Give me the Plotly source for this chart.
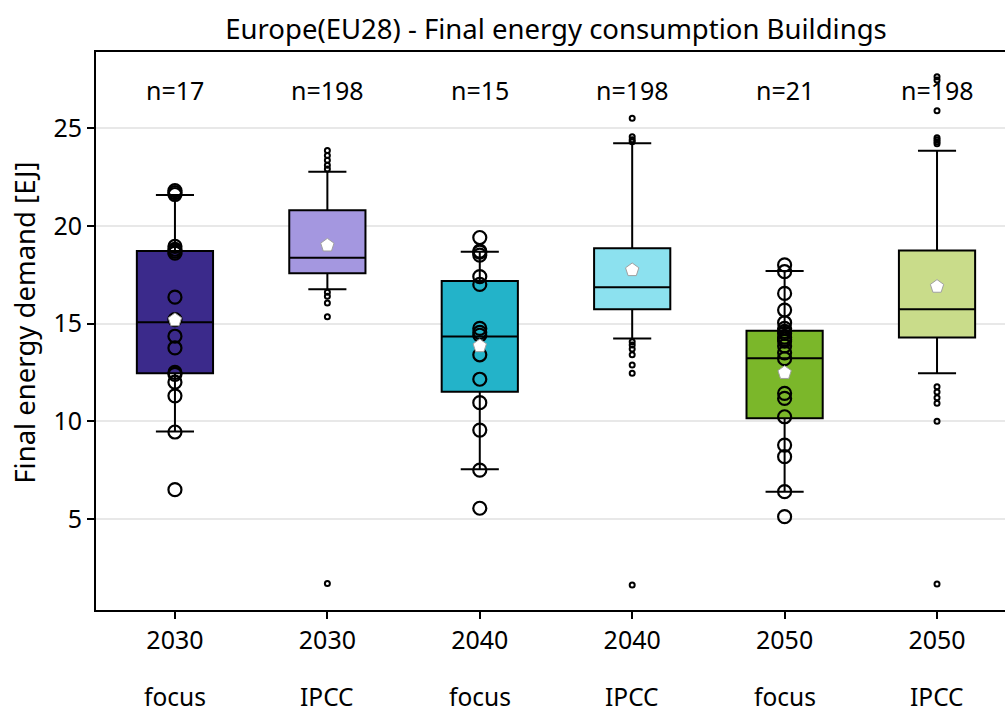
import plotly.graph_objects as go

# ---- data ----
categories = ["2030 focus", "2030 IPCC", "2040 focus", "2040 IPCC", "2050 focus", "2050 IPCC"]
years = ["2030", "2030", "2040", "2040", "2050", "2050"]
groups = ["focus", "IPCC", "focus", "IPCC", "focus", "IPCC"]
counts = [17, 198, 15, 198, 21, 198]

q1 = [12.45, 17.57, 11.51, 15.73, 10.15, 14.29]
median = [15.06, 18.37, 14.33, 16.85, 13.22, 15.73]
q3 = [18.71, 20.80, 17.17, 18.85, 14.63, 18.73]
lowerfence = [9.47, 16.75, 7.54, 14.24, 6.40, 12.45]
upperfence = [21.57, 22.77, 18.67, 24.22, 17.69, 23.84]
means = [15.18, 19.00, 13.85, 17.74, 12.48, 16.89]

focus_2030 = [21.8, 21.7, 21.6, 18.95, 18.8, 18.7, 18.6, 16.35, 15.2, 14.35, 13.75,
              12.5, 12.0, 11.3, 12.4, 9.45, 6.5]
focus_2040 = [19.4, 18.7, 18.65, 18.5, 17.4, 17.0, 14.75, 14.55, 14.4, 13.4, 12.15,
              10.95, 9.55, 7.5, 5.55]
focus_2050 = [18.0, 17.65, 16.54, 15.69, 15.04, 14.75, 14.6, 14.5, 14.3, 14.2, 14.1,
              13.85, 13.5, 13.2, 11.43, 11.17, 10.23, 8.78, 8.19, 6.4, 5.12]
ipcc_2030_outliers = [23.85, 23.6, 23.35, 23.1, 22.9, 16.6, 16.4, 16.05, 15.35, 1.7]
ipcc_2040_outliers = [25.5, 24.55, 24.4, 24.3, 14.07, 13.9, 13.7, 13.4, 12.88, 12.45, 1.62]
ipcc_2050_outliers = [27.62, 27.46, 25.89, 24.5, 24.4, 24.3, 24.2, 11.77, 11.5, 11.2,
                      10.92, 10.0, 1.68]

point_sets = [focus_2030, ipcc_2030_outliers, focus_2040, ipcc_2040_outliers,
              focus_2050, ipcc_2050_outliers]

colors = ["#3b2a8b", "#a497e0", "#23b3c9", "#8ce1ef", "#7bb72a", "#c9dc8a"]

positions = list(range(len(categories)))
FONT = "Noto Sans"

fig = go.Figure()

for i, cat in enumerate(categories):
    fig.add_trace(go.Box(
        x=[positions[i]], q1=[q1[i]], median=[median[i]], q3=[q3[i]],
        lowerfence=[lowerfence[i]], upperfence=[upperfence[i]],
        width=0.5, whiskerwidth=0.5, fillcolor=colors[i],
        line=dict(color="black", width=2), boxpoints=False,
        name=cat, showlegend=False, hoverinfo="skip",
    ))

for i, pts in enumerate(point_sets):
    big = groups[i] == "focus"
    fig.add_trace(go.Scatter(
        x=[positions[i]] * len(pts), y=pts, mode="markers",
        marker=dict(symbol="circle-open", size=13 if big else 5,
                    color="black", line=dict(width=2.2 if big else 2, color="black")),
        showlegend=False, hoverinfo="y",
    ))

fig.add_trace(go.Scatter(
    x=positions, y=means, mode="markers",
    marker=dict(symbol="pentagon", size=14, color="white",
                line=dict(width=1, color="#a0a0a0")),
    showlegend=False, hoverinfo="y",
))

for i, n in enumerate(counts):
    fig.add_annotation(x=positions[i], y=26.95, text=f"n={n}", showarrow=False,
                       font=dict(size=25, color="black", family=FONT))
    fig.add_annotation(x=positions[i], xref="x", y=-0.155, yref="paper",
                       text=groups[i], showarrow=False, yanchor="middle",
                       font=dict(size=24.5, color="black", family=FONT))

fig.add_annotation(x=-0.078, xref="paper", y=0.515, yref="paper",
                   text="Final energy demand [EJ]", textangle=-90, showarrow=False,
                   xanchor="center", yanchor="middle",
                   font=dict(size=27.5, color="black", family=FONT))

fig.update_layout(
    width=1005, height=712,
    margin=dict(l=96, r=0, t=52, b=102),
    paper_bgcolor="white", plot_bgcolor="white",
    font=dict(family=FONT, size=25, color="black"),
    title=dict(text="Europe(EU28) - Final energy consumption Buildings",
               x=(556 / 1005), xref="container", xanchor="center",
               y=1 - 29 / 712, yanchor="middle",
               font=dict(size=27.5, family=FONT, color="black")),
    xaxis=dict(range=[-0.518, 5.446], tickvals=positions, ticktext=years,
               showgrid=False, zeroline=False, showline=True, linecolor="black",
               linewidth=2, mirror=True, ticks="outside", ticklen=7, tickwidth=1.5,
               tickcolor="black", tickfont=dict(size=25), automargin=False),
    yaxis=dict(range=[0.345, 28.89], tickvals=[5, 10, 15, 20, 25],
               showgrid=True, gridcolor="#e8e8e8", gridwidth=1.5, zeroline=False,
               showline=True, linecolor="black", linewidth=2,
               ticks="outside", ticklen=7, tickwidth=1.5, tickcolor="black",
               tickfont=dict(size=25), automargin=False),
)

fig.write_html("out.html", config={"displayModeBar": False},
               post_script="document.body.style.margin='0';")
